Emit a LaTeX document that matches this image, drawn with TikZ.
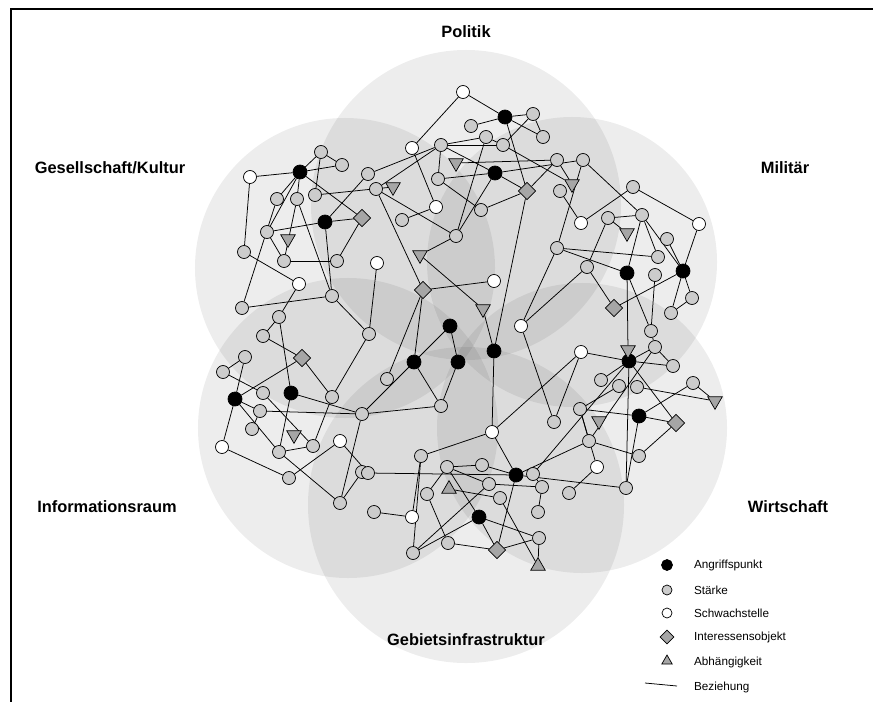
\documentclass[tikz,border=0pt]{standalone}
\usepackage{fontspec}
\setmainfont{Liberation Sans}
\usetikzlibrary{shapes.geometric}
\pgfdeclarelayer{bg}
\pgfdeclarelayer{edges}
\pgfsetlayers{bg,edges,main}

\tikzset{
  knoten/.style={circle, draw=black, line width=0.6pt, minimum size=0.39cm, inner sep=0pt},
  angriff/.style={knoten, fill=black, minimum size=0.42cm},
  staerke/.style={knoten, fill=black!20},
  schwach/.style={knoten, fill=white},
  interesse/.style={diamond, draw=black, line width=0.6pt, fill=black!35, minimum size=0.52cm, inner sep=0pt},
  abhaeng/.style={regular polygon, regular polygon sides=3, shape border rotate=180, draw=black, line width=0.6pt, fill=black!35, minimum size=0.5cm, inner sep=0pt},
  bez/.style={line width=0.65pt},
  bereich/.style={fill=black, fill opacity=0.07},
  feld/.style={font=\fontsize{14}{16}\selectfont\bfseries},
  legtext/.style={anchor=west, font=\fontsize{10}{12}\selectfont}
}

\begin{document}
\begin{tikzpicture}[x=0.03cm, y=-0.03cm]
  \useasboundingbox (0,0) rectangle (873,702);
  \draw[line width=1.2pt] (873,9) -- (11,9) -- (11,702);

  \begin{pgfonlayer}{bg}
    \fill[bereich] (466,205) circle[radius=4.65cm];
    \fill[bereich] (345,268) circle[radius=4.5cm];
    \fill[bereich] (572,262) circle[radius=4.35cm];
    \fill[bereich] (348,428) circle[radius=4.5cm];
    \fill[bereich] (582,428) circle[radius=4.35cm];
    \fill[bereich] (466,505) circle[radius=4.74cm];
  \end{pgfonlayer}

  \node[feld] (politik) at (466,32) {Politik};
  \node[feld] (gesell) at (110,168) {Gesellschaft/Kultur};
  \node[feld] (militaer) at (785,168) {Militär};
  \node[feld] (info) at (107,507) {Informationsraum};
  \node[feld] (wirtschaft) at (788,507) {Wirtschaft};
  \node[feld] (gebiet) at (466,640) {Gebietsinfrastruktur};

  \node[angriff] (a1) at (300,172) {};
  \node[angriff] (a2) at (325,222) {};
  \node[angriff] (a3) at (505,117) {};
  \node[angriff] (a4) at (495,173) {};
  \node[angriff] (a5) at (627,273) {};
  \node[angriff] (a6) at (683,271) {};
  \node[angriff] (a7) at (450,326) {};
  \node[angriff] (a8) at (414,362) {};
  \node[angriff] (a9) at (458,362) {};
  \node[angriff] (a10) at (494,351) {};
  \node[angriff] (a11) at (235,399) {};
  \node[angriff] (a12) at (291,393) {};
  \node[angriff] (a13) at (629,361) {};
  \node[angriff] (a14) at (639,416) {};
  \node[angriff] (a15) at (516,475) {};
  \node[angriff] (a16) at (479,517) {};

  \node[schwach] (w1) at (250,177) {};
  \node[schwach] (w2) at (299,284) {};
  \node[schwach] (w3) at (377,263) {};
  \node[schwach] (w4) at (463,92) {};
  \node[schwach] (w5) at (412,148) {};
  \node[schwach] (w6) at (436,207) {};
  \node[schwach] (w7) at (494,281) {};
  \node[schwach] (w8) at (521,326) {};
  \node[schwach] (w9) at (581,223) {};
  \node[schwach] (w10) at (699,224) {};
  \node[schwach] (w11) at (222,447) {};
  \node[schwach] (w12) at (340,441) {};
  \node[schwach] (w13) at (492,432) {};
  \node[schwach] (w14) at (412,517) {};
  \node[schwach] (w15) at (581,352) {};
  \node[schwach] (w16) at (597,467) {};

  \node[staerke] (s1) at (321,152) {};
  \node[staerke] (s2) at (342,165) {};
  \node[staerke] (s3) at (277,199) {};
  \node[staerke] (s4) at (297,199) {};
  \node[staerke] (s5) at (315,195) {};
  \node[staerke] (s6) at (368,174) {};
  \node[staerke] (s7) at (376,189) {};
  \node[staerke] (s8) at (267,232) {};
  \node[staerke] (s9) at (244,252) {};
  \node[staerke] (s10) at (284,261) {};
  \node[staerke] (s11) at (337,261) {};
  \node[staerke] (s12) at (332,296) {};
  \node[staerke] (s13) at (242,308) {};
  \node[staerke] (s14) at (279,317) {};
  \node[staerke] (s15) at (263,336) {};
  \node[staerke] (s16) at (369,334) {};
  \node[staerke] (s17) at (471,126) {};
  \node[staerke] (s18) at (486,137) {};
  \node[staerke] (s19) at (503,145) {};
  \node[staerke] (s20) at (441,145) {};
  \node[staerke] (s21) at (533,114) {};
  \node[staerke] (s22) at (543,137) {};
  \node[staerke] (s23) at (438,179) {};
  \node[staerke] (s24) at (481,210) {};
  \node[staerke] (s25) at (402,220) {};
  \node[staerke] (s26) at (456,236) {};
  \node[staerke] (s27) at (557,160) {};
  \node[staerke] (s28) at (583,160) {};
  \node[staerke] (s29) at (560,191) {};
  \node[staerke] (s30) at (633,187) {};
  \node[staerke] (s31) at (608,218) {};
  \node[staerke] (s32) at (642,215) {};
  \node[staerke] (s33) at (667,239) {};
  \node[staerke] (s34) at (557,248) {};
  \node[staerke] (s35) at (587,267) {};
  \node[staerke] (s36) at (658,257) {};
  \node[staerke] (s37) at (655,275) {};
  \node[staerke] (s38) at (692,298) {};
  \node[staerke] (s39) at (671,313) {};
  \node[staerke] (s40) at (651,331) {};
  \node[staerke] (s41) at (245,357) {};
  \node[staerke] (s42) at (223,372) {};
  \node[staerke] (s43) at (263,393) {};
  \node[staerke] (s44) at (260,411) {};
  \node[staerke] (s45) at (332,397) {};
  \node[staerke] (s46) at (362,414) {};
  \node[staerke] (s47) at (252,429) {};
  \node[staerke] (s48) at (279,452) {};
  \node[staerke] (s49) at (313,446) {};
  \node[staerke] (s50) at (289,478) {};
  \node[staerke] (s51) at (362,472) {};
  \node[staerke] (s52) at (368,473) {};
  \node[staerke] (s53) at (340,503) {};
  \node[staerke] (s54) at (374,512) {};
  \node[staerke] (s55) at (387,379) {};
  \node[staerke] (s56) at (441,406) {};
  \node[staerke] (s57) at (421,456) {};
  \node[staerke] (s58) at (447,467) {};
  \node[staerke] (s59) at (482,465) {};
  \node[staerke] (s60) at (533,474) {};
  \node[staerke] (s61) at (489,484) {};
  \node[staerke] (s62) at (542,487) {};
  \node[staerke] (s63) at (427,494) {};
  \node[staerke] (s64) at (500,498) {};
  \node[staerke] (s65) at (538,512) {};
  \node[staerke] (s66) at (448,543) {};
  \node[staerke] (s67) at (413,553) {};
  \node[staerke] (s68) at (539,538) {};
  \node[staerke] (s69) at (655,347) {};
  \node[staerke] (s70) at (673,366) {};
  \node[staerke] (s71) at (601,380) {};
  \node[staerke] (s72) at (619,386) {};
  \node[staerke] (s73) at (637,387) {};
  \node[staerke] (s74) at (693,383) {};
  \node[staerke] (s75) at (580,409) {};
  \node[staerke] (s76) at (554,422) {};
  \node[staerke] (s77) at (589,441) {};
  \node[staerke] (s78) at (639,456) {};
  \node[staerke] (s79) at (626,488) {};
  \node[staerke] (s80) at (569,493) {};

  \node[interesse] (i1) at (362,218) {};
  \node[interesse] (i2) at (527,191) {};
  \node[interesse] (i3) at (423,290) {};
  \node[interesse] (i4) at (614,308) {};
  \node[interesse] (i5) at (302,358) {};
  \node[interesse] (i6) at (676,423) {};
  \node[interesse] (i7) at (497,550) {};

  \node[abhaeng] (t1) at (288,239) {};
  \node[abhaeng] (t2) at (393,187) {};
  \node[abhaeng] (t3) at (456,163) {};
  \node[abhaeng] (t4) at (420,255) {};
  \node[abhaeng] (t5) at (483,309) {};
  \node[abhaeng] (t6) at (572,184) {};
  \node[abhaeng] (t7) at (627,233) {};
  \node[abhaeng] (t8) at (628,350) {};
  \node[abhaeng] (t9) at (294,435) {};
  \node[abhaeng] (t10) at (599,421) {};
  \node[abhaeng] (t11) at (715,401) {};
  \node[abhaeng, shape border rotate=0] (t12) at (449,489) {};
  \node[abhaeng, shape border rotate=0] (t13) at (538,566) {};

  \begin{pgfonlayer}{edges}
    \foreach \a/\b in {w1/a1, w1/s9, a1/s1, a1/s2, s1/s2, s1/s5, a1/s8, a1/s3, a1/i1, a1/s4,
        s4/s12, s4/s10, s8/s10, s5/t2, s6/a2, s6/s20, a2/i1, a2/s8, a2/s12, i1/s11, s10/s11,
        s13/s3, s9/w2, w2/s14, s13/s12, s12/s16, s14/s15, w3/s16, s7/s20,
        w4/a3, w4/w5, a3/s17, a3/s21, s21/s22, a3/s22, s19/s21, s20/s18, s18/s19, s20/s19,
        a3/i2, s18/s26, s20/s23, s20/a4, a4/s23, a4/s26, a4/i2, s23/s24, s24/i2, t3/s27,
        a4/s28, s19/t6, i2/s27, w5/w6, w6/s25, s7/s26, s7/i3, s26/t4, t4/t5, i3/w7, i3/s55,
        i3/a8, t5/a10, i2/a10, w8/s34, w8/s35, w8/s76,
        s27/t6, s28/s34, s28/s32, s29/w9, w9/s30, s30/w10, w10/a6, s31/s32, s31/s35, s32/a5,
        s32/s36, s32/a6, s33/a6, s34/s36, s34/a5, a6/i4, a6/s38, s38/s39, a6/s39, i4/s35,
        a5/s40, a5/t8, t7/s31, s37/s40, s40/s69,
        w15/a13, w15/s76, w15/w13, t8/a13, a13/s69, a13/s70, s69/s70, a13/s71, a13/s79,
        a13/i6, a13/s60, s73/t11, s74/t11, s74/a14, a14/s75, a14/i6, a14/s79, i6/s78,
        s77/s78, s77/s75, s75/w16, w16/s80, s77/s69, s72/s75, a15/s79, a15/s77,
        a7/a8, a7/a9, a8/s46, a8/s56, a9/s56, s56/s46, a10/w13, w13/s57, w13/a15, s57/s67,
        s52/a15, s58/s63, s58/s61, s58/s59, s59/a15, s58/a16, a16/i7, a15/i7, s64/t13,
        t12/s64, s61/s67, s61/s62, s63/s66, s54/w14, w14/s57, s67/a16, s66/i7, a16/s68,
        i7/s68, s68/t13, s65/s62, s60/s62,
        s15/i5, s41/s42, s41/a11, s42/s43, a11/i5, a11/w11, a11/s48, a11/s44, s44/s46,
        s47/s44, s43/s49, a12/s46, a12/s48, a12/s14, i5/s45, s45/s49, s45/s16, s48/s49,
        s48/s53, w11/s50, s50/w12, w12/s52, s46/s53, s51/s53}
      \draw[bez] (\a) -- (\b);
  \end{pgfonlayer}

  \node[angriff, minimum size=0.33cm] (la) at (667,565) {};
  \node[staerke, minimum size=0.3cm] (ls) at (667,590) {};
  \node[schwach, minimum size=0.3cm] (lw) at (667,613) {};
  \node[interesse, minimum size=0.42cm] (li) at (667,637) {};
  \node[abhaeng, shape border rotate=0, minimum size=0.36cm] (lt) at (667,661) {};
  \coordinate (lb1) at (645,683);
  \coordinate (lb2) at (677,686);
  \draw[bez] (lb1) -- (lb2);

  \node[legtext] (ta) at (690,565) {Angriffspunkt};
  \node[legtext] (ts) at (690,590) {Stärke};
  \node[legtext] (tw) at (690,613) {Schwachstelle};
  \node[legtext] (ti) at (690,637) {Interessensobjekt};
  \node[legtext] (tt) at (690,662) {Abhängigkeit};
  \node[legtext] (tb) at (690,687) {Beziehung};
\end{tikzpicture}
\end{document}
